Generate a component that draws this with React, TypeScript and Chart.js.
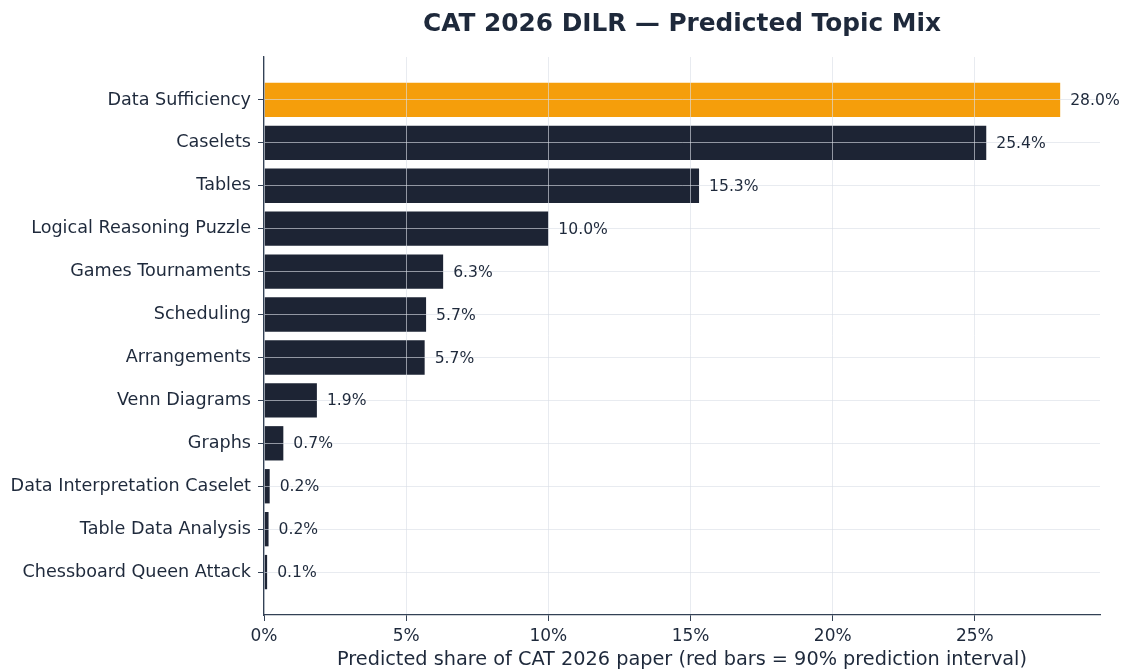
import React, { useEffect, useRef } from "react";
import { Chart, registerables } from "chart.js";

Chart.register(...registerables);

const categories = [
  "Data Sufficiency",
  "Caselets",
  "Tables",
  "Logical Reasoning Puzzle",
  "Games Tournaments",
  "Scheduling",
  "Arrangements",
  "Venn Diagrams",
  "Graphs",
  "Data Interpretation Caselet",
  "Table Data Analysis",
  "Chessboard Queen Attack",
];
const shares = [28.0, 25.4, 15.3, 10.0, 6.3, 5.7, 5.65, 1.86, 0.68, 0.2, 0.16, 0.11];
const shareLabels = ["28.0%", "25.4%", "15.3%", "10.0%", "6.3%", "5.7%", "5.7%", "1.9%", "0.7%", "0.2%", "0.2%", "0.1%"];
const highlighted = [true, false, false, false, false, false, false, false, false, false, false, false];
const xTicks = [0, 5, 10, 15, 20, 25];
const xMax = 29.4;

const TITLE = "CAT 2026 DILR \u2014 Predicted Topic Mix";
const X_TITLE = "Predicted share of CAT 2026 paper (red bars = 90% prediction interval)";
const FONT = "'DejaVu Sans', sans-serif";
const TEXT = "#1e293b";
const AXIS = "#334155";
const DARK = "#1d2434";
const ORANGE = "#f59e0b";
const GRID = "rgba(218,222,230,0.62)";

export default function App() {
  const ref = useRef<HTMLCanvasElement | null>(null);

  useEffect(() => {
    if (!ref.current) return;
    const labels = ["", ...categories, ""];
    const data = [null, ...shares, null];
    const text = ["", ...shareLabels, ""];
    const colors = ["transparent", ...highlighted.map((h) => (h ? ORANGE : DARK)), "transparent"];

    const titlePlugin = {
      id: "titleDraw",
      afterDraw(chart: any) {
        const { ctx, chartArea } = chart;
        ctx.save();
        ctx.font = `bold 24.8px ${FONT}`;
        ctx.fillStyle = TEXT;
        ctx.textAlign = "center";
        ctx.textBaseline = "middle";
        ctx.fillText(TITLE, (chartArea.left + chartArea.right) / 2, 25);
        ctx.restore();
      },
    };

    const valuePlugin = {
      id: "valueLabels",
      afterDraw(chart: any) {
        const { ctx } = chart;
        const meta = chart.getDatasetMeta(0);
        ctx.save();
        ctx.font = `15.6px ${FONT}`;
        ctx.fillStyle = TEXT;
        ctx.textAlign = "left";
        ctx.textBaseline = "middle";
        meta.data.forEach((el: any, i: number) => {
          if (data[i] == null) return;
          ctx.fillText(text[i], el.x + 10, el.y + 1);
        });
        ctx.restore();
      },
    };

    const chart = new Chart(ref.current, {
      type: "bar",
      data: {
        labels,
        datasets: [
          {
            data,
            backgroundColor: colors,
            borderWidth: 0,
            barPercentage: 0.8,
            categoryPercentage: 1.0,
          },
        ],
      },
      options: {
        indexAxis: "y",
        responsive: false,
        animation: false,
        layout: { padding: { top: 57, right: 21, left: 0, bottom: 0 } },
        plugins: {
          legend: { display: false },
          tooltip: { enabled: false },
          title: { display: false },
        },
        scales: {
          x: {
            type: "linear",
            min: 0,
            max: xMax,
            afterBuildTicks(scale: any) {
              scale.ticks = xTicks.map((v) => ({ value: v }));
            },
            afterFit(scale: any) {
              scale.height = 55;
            },
            ticks: {
              color: TEXT,
              font: { family: FONT, size: 17 },
              padding: 5,
              callback: (v: any) => `${v}%`,
            },
            grid: {
              z: 1,
              color: GRID,
              lineWidth: 1,
              tickColor: AXIS,
              tickLength: 6,
            },
            border: { color: AXIS, width: 1.3, z: 2 },
            title: {
              display: true,
              text: X_TITLE,
              color: TEXT,
              font: { family: FONT, size: 19.3, lineHeight: 1.0 },
              padding: { top: 2, bottom: 0 },
            },
          },
          y: {
            type: "category",
            offset: false,
            afterFit(scale: any) {
              scale.width = 264;
            },
            ticks: {
              color: TEXT,
              font: { family: FONT, size: 17.6 },
              padding: 7,
              autoSkip: false,
            },
            grid: {
              z: 1,
              offset: false,
              color: (ctx: any) =>
                ctx.index === 0 || ctx.index === labels.length - 1 ? "transparent" : GRID,
              tickColor: (ctx: any) =>
                ctx.index === 0 || ctx.index === labels.length - 1 ? "transparent" : AXIS,
              tickLength: 6,
              lineWidth: 1,
            },
            border: { color: AXIS, width: 1.3, z: 2 },
          },
        },
      },
      plugins: [titlePlugin, valuePlugin],
    } as any);

    return () => chart.destroy();
  }, []);

  return (
    <div style={{ position: "fixed", left: 0, top: 0, width: 1121, height: 670, background: "#fff" }}>
      <canvas ref={ref} width={1121} height={670} style={{ width: 1121, height: 670, display: "block" }} />
    </div>
  );
}
